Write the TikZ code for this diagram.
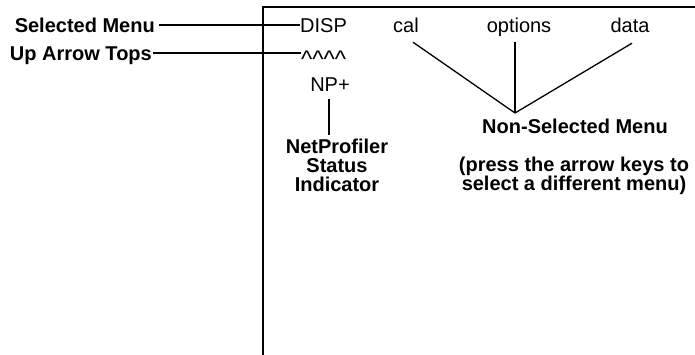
\documentclass[tikz,border=0pt]{standalone}
\usepackage{fontspec}
\setmainfont{Liberation Sans}
\usetikzlibrary{positioning}

\tikzset{
  menu/.style={inner sep=0pt, text height=14.3pt, text depth=0pt, font=\fontsize{20}{20}\selectfont},
  tag/.style={inner sep=0pt, text height=14.3pt, text depth=0pt, font=\fontsize{20}{19}\selectfont\bfseries},
  tagblock/.style={inner sep=0pt, align=center, font=\fontsize{20}{19}\selectfont\bfseries},
  leader/.style={line width=1.3pt}
}

\begin{document}
\begin{tikzpicture}[x=1pt, y=-1pt]
        \useasboundingbox (0,0) rectangle (695,354);
        % Frame
        \draw[line width=1.8pt] (263,358) |- (699,7);
        % Menu bar
        \node[menu, anchor=base west] (disp) at (300,32) {DISP};
        \node[menu, anchor=base] (cal) at (406,32) {cal};
        \node[menu, anchor=base] (opts) at (519,32) {options};
        \node[menu, anchor=base] (data) at (630,32) {data};
        \node[menu, font=\fontsize{24}{24}\selectfont, anchor=base west] (tops) at (301,67) {\textasciicircum\textasciicircum\textasciicircum\textasciicircum};
        \node[menu, anchor=base] (np) at (330,91) {NP+};
        % Labels
        \node[tag, anchor=base east] (selmenu) at (155,32) {Selected Menu};
        \node[tag, anchor=base east] (uptops) at (152,60) {Up Arrow Tops};
        \node[tagblock, anchor=base] (npind) at (337,191) {NetProfiler\\Status\\Indicator};
        \node[tag, anchor=base] (nonsel) at (575,133) {Non-Selected Menu};
        \node[tagblock, anchor=base] (press) at (574,190) {(press the arrow keys to\\select a different menu)};
        % Leaders
        \coordinate (tip) at (515,113);
        \draw[leader, shorten <=4pt] (selmenu.east) -- (disp.west);
        \draw[leader, shorten <=1pt] (uptops.east) -- (tops.west |- uptops.east);
        \draw[leader, shorten <=8pt, shorten >=3pt] ([xshift=-1pt]np.south) -- ([xshift=-1pt]np.south |- npind.north);
        \draw[leader] ([xshift=7pt,yshift=-10pt]cal.south) -- (tip);
        \draw[leader] ([yshift=-10pt]opts.south -| tip) -- (tip);
        \draw[leader] ([xshift=2pt,yshift=-11pt]data.south) -- (tip);
\end{tikzpicture}
\end{document}
